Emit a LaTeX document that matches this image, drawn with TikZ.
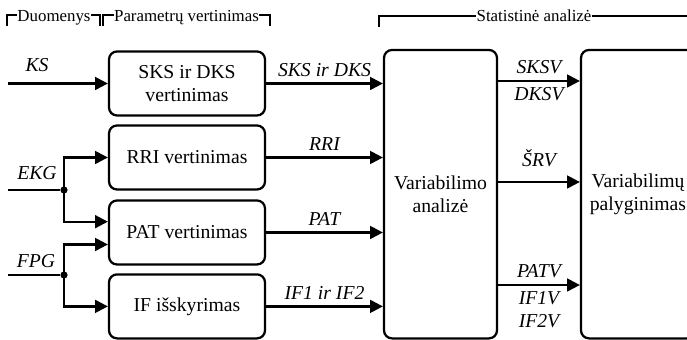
\documentclass[tikz,border=0pt]{standalone}
\usepackage{fontspec}
\setmainfont{Liberation Serif}
\usetikzlibrary{arrows.meta, positioning, calc}

\begin{document}
\begin{tikzpicture}[
    block/.style={draw, rounded corners=0.2cm, line width=1.6pt,
                  font=\fontsize{14}{16.3}\selectfont, align=center},
    sig/.style={font=\fontsize{14}{16.3}\selectfont\itshape, inner sep=4pt},
    head/.style={font=\fontsize{12}{14}\selectfont, inner sep=0pt},
    flow/.style={-{Triangle[length=0.32cm, width=0.32cm]}, line width=1.6pt},
    bracket/.style={line width=1.5pt},
    dot/.style={circle, fill, inner sep=0pt, minimum size=0.18cm}
  ]
  \useasboundingbox (0, 0) rectangle (17.175, 8.5);

  % estimation blocks
  \node[block, minimum width=3.9cm, minimum height=1.6cm] (sks) at (4.675, 6.4125)
    {SKS ir DKS\\vertinimas};
  \node[block, minimum width=3.9cm, minimum height=1.6cm] (rri) at (4.675, 4.5625)
    {RRI vertinimas};
  \node[block, minimum width=3.9cm, minimum height=1.6cm] (pat) at (4.675, 2.6875)
    {PAT vertinimas};
  \node[block, minimum width=3.9cm, minimum height=1.6cm] (ifx) at (4.675, 0.84)
    {IF išskyrimas};

  % analysis blocks
  \node[block, minimum width=2.825cm, minimum height=7.21cm] (var) at (11.0125, 3.645)
    {Variabilimo\\analizė};
  \node[block, minimum width=2.85cm, minimum height=7.21cm] (cmp) at (15.95, 3.645)
    {Variabilimų\\palyginimas};

  % inputs
  \coordinate (ksin) at (0.2, 6.4125);
  \coordinate (ekgin) at (0.2, 3.75);
  \coordinate (fpgin) at (0.2, 1.625);
  \node[dot] (ekgj) at (1.6, 3.75) {};
  \node[dot] (fpgj) at (1.6, 1.625) {};

  \node[sig, anchor=base] (kslbl) at (0.925, 6.7) {KS};
  \node[sig, anchor=base] (ekglbl) at (0.925, 4.0) {EKG};
  \node[sig, anchor=base] (fpglbl) at (0.9, 1.8) {FPG};

  \draw[flow] (ksin) -- (sks.west);
  \draw[line width=1.6pt] (ekgin) -- (ekgj);
  \draw[flow] (ekgj.center) |- (rri.west);
  \draw[flow] (ekgj.center) |- ([yshift=0.27cm]pat.west);
  \draw[line width=1.6pt] (fpgin) -- (fpgj);
  \draw[flow] (fpgj.center) |- ([yshift=-0.3cm]pat.west);
  \draw[flow] (fpgj.center) |- (ifx.west);

  % parameters into the analysis
  \draw[flow] (sks.east) -- node[sig, above] {SKS ir DKS} (sks.east -| var.west);
  \draw[flow] (rri.east) -- node[sig, above] {RRI} (rri.east -| var.west);
  \draw[flow] (pat.east) -- node[sig, above] {PAT} (pat.east -| var.west);
  \draw[flow] (ifx.east) -- node[sig, above] {IF1 ir IF2} (ifx.east -| var.west);

  % variabilities into the comparison
  \coordinate (v1) at ($(var.east) + (0, 2.83)$);
  \coordinate (v2) at ($(var.east) + (0, 0.305)$);
  \coordinate (v3) at ($(var.east) + (0, -2.27)$);
  \draw[flow] (v1) -- node[sig, above] {SKSV} node[sig, below] {DKSV} (v1 -| cmp.west);
  \draw[flow] (v2) -- node[sig, above=6pt] {ŠRV} (v2 -| cmp.west);
  \draw[flow] (v3) -- node[sig, above] {PATV}
    node[sig, below, align=center] {IF1V\\IF2V} (v3 -| cmp.west);

  % stage headings
  \node[head, anchor=base] (hdata) at (1.35, 7.95) {Duomenys};
  \node[head, anchor=base] (hpar) at (4.6625, 7.95) {Parametrų vertinimas};
  \node[head, anchor=base] (hstat) at (13.35, 7.97) {Statistinė analizė};
  \draw[bracket] (0.175, 7.85) |- ([yshift=5pt]hdata.base west);
  \draw[bracket] ([yshift=5pt]hdata.base east) -| (2.5, 7.85);
  \draw[bracket] (2.575, 7.85) |- ([yshift=5pt]hpar.base west);
  \draw[bracket] ([yshift=5pt]hpar.base east) -| (6.75, 7.85);
  \draw[bracket] (9.475, 7.83) |- ([yshift=3.5pt]hstat.base west);
  \draw[bracket] ([yshift=3.5pt]hstat.base east) -- ++(4.5, 0);
\end{tikzpicture}
\end{document}
